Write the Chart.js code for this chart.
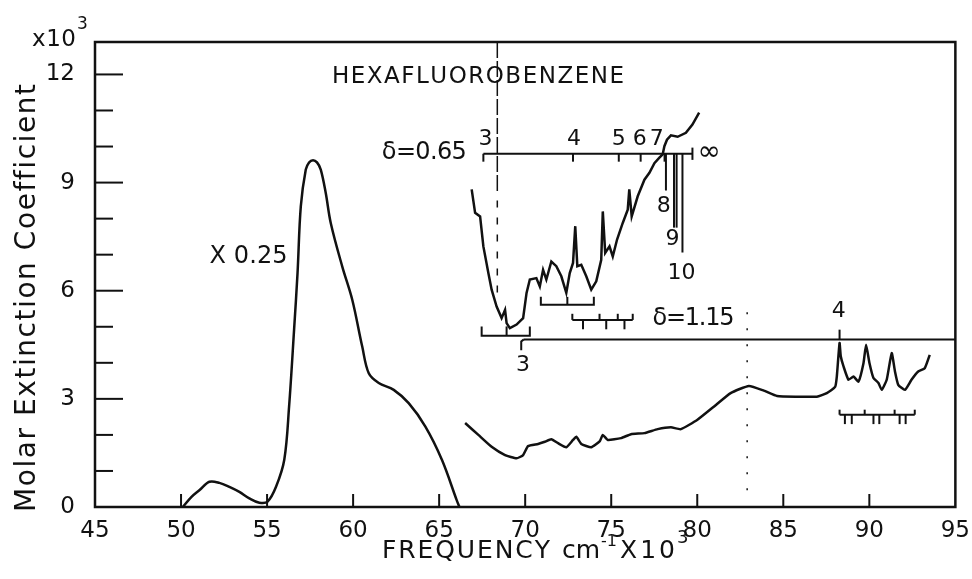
<!DOCTYPE html>
<html>
<head>
<meta charset="utf-8">
<script src="https://cdn.jsdelivr.net/npm/chart.js@4.4.1/dist/chart.umd.min.js"></script>
<style>
  body { margin: 0; background: #fff; }
  #wrap { width: 972px; height: 579px; }
</style>
</head>
<body>
<div id="wrap"><canvas id="spec" width="972" height="579"></canvas></div>
<script>
// --- Dados (frequência em 10^3 cm-1, epsilon em 10^3) ---
// banda principal (x0.25)
const bandFreq = [50.1, 50.61, 51.08, 51.65, 52.23, 52.81, 53.39, 53.97, 54.55, 55.03, 55.52, 56.0, 56.28, 56.57, 56.77, 56.96, 57.25, 57.44, 57.67, 57.9, 58.12, 58.41, 58.7, 59.37, 59.95, 60.53, 60.91, 61.49, 62.36, 63.23, 64.2, 65.16, 66.02, 66.18];
const bandEps  = [0, 0.28, 0.47, 0.70, 0.67, 0.56, 0.42, 0.24, 0.12, 0.15, 0.56, 1.31, 2.79, 4.92, 6.49, 8.34, 9.36, 9.56, 9.62, 9.56, 9.36, 8.71, 7.88, 6.67, 5.75, 4.45, 3.71, 3.44, 3.25, 2.88, 2.23, 1.31, 0.19, 0];

// espectro de alta energia (escala normal)
const uvFreq = [66.51, 67.28, 68.05, 68.83, 69.5, 69.88, 70.17, 70.75, 71.14, 71.52, 71.91, 72.39, 72.78, 72.97, 73.26, 73.84, 74.34, 74.51, 74.8, 75.57, 76.15, 76.93, 77.7, 78.47, 79.05, 80.01, 80.98, 81.94, 83.0, 83.87, 84.64, 85.8, 86.95, 87.53, 88.01, 88.11, 88.27, 88.34, 88.5, 88.79, 89.08, 89.37, 89.66, 89.81, 90.01, 90.24, 90.53, 90.72, 91.01, 91.3, 91.49, 91.68, 92.07, 92.45, 92.84, 93.22, 93.51];
const uvEps  = [2.33, 2.0, 1.67, 1.44, 1.35, 1.44, 1.69, 1.75, 1.81, 1.88, 1.77, 1.66, 1.86, 1.95, 1.75, 1.66, 1.83, 2.0, 1.86, 1.91, 2.02, 2.05, 2.16, 2.21, 2.16, 2.42, 2.79, 3.16, 3.36, 3.23, 3.08, 3.06, 3.06, 3.16, 3.33, 3.62, 4.55, 4.18, 3.9, 3.53, 3.62, 3.48, 3.99, 4.5, 3.99, 3.58, 3.44, 3.25, 3.53, 4.27, 3.76, 3.39, 3.25, 3.53, 3.76, 3.85, 4.22];

// detalhe ampliado (inset)
const insetFreq = [66.89, 67.09, 67.38, 67.57, 67.86, 68.05, 68.34, 68.63, 68.83, 68.92, 69.11, 69.5, 69.88, 70.08, 70.27, 70.65, 70.85, 71.04, 71.23, 71.52, 71.81, 72.1, 72.39, 72.59, 72.78, 72.91, 73.03, 73.26, 73.55, 73.84, 74.13, 74.42, 74.51, 74.65, 74.9, 75.09, 75.34, 75.67, 75.96, 76.05, 76.19, 76.54, 76.93, 77.22, 77.51, 77.8, 77.99, 78.09, 78.24, 78.47, 78.86, 79.34, 79.72, 80.11];
const insetEps  = [8.81, 8.16, 8.06, 7.23, 6.49, 6.03, 5.56, 5.24, 5.47, 5.1, 4.96, 5.06, 5.24, 5.94, 6.31, 6.35, 6.12, 6.58, 6.31, 6.81, 6.68, 6.4, 5.94, 6.49, 6.77, 7.79, 6.68, 6.72, 6.4, 6.03, 6.26, 6.86, 8.2, 7.05, 7.23, 6.95, 7.42, 7.88, 8.25, 8.81, 8.06, 8.62, 9.08, 9.27, 9.54, 9.69, 9.78, 10.01, 10.19, 10.31, 10.27, 10.38, 10.61, 10.94];

const xTickStep = 5;
const yTickStep = 3;

// séries de Rydberg
const rydA = { level: 9.8, start: 67.57, end: 79.72, marks: [67.57, 72.78, 75.44, 76.71, 78.1], names: ['3', '4', '5', '6', '7'] };
const rydALimits = [[78.18, 8.78], [78.65, 7.75], [78.8, 7.75], [79.14, 7.06]];
const rydB = { level: 4.65, start: 69.77, end: 95, mark: 88.27 };

const INK = '#111';
const FONT = '"DejaVu Sans", sans-serif';

function zip(xs, ys) { return xs.map((v, i) => ({ x: v, y: ys[i] })); }

// desenha texto espaçado para ocupar uma largura dada
function fitText(ctx, text, x, y, width) {
    const chars = [...text];
    const ws = chars.map(c => ctx.measureText(c).width);
    const total = ws.reduce((a, b) => a + b, 0);
    const gap = chars.length > 1 ? (width - total) / (chars.length - 1) : 0;
    let cx = x;
    chars.forEach((c, i) => { ctx.fillText(c, cx, y); cx += ws[i] + gap; });
}

const decor = {
    id: 'decor',
    afterDatasetsDraw(chart) {
        const { ctx, chartArea: a, scales } = chart;
        const X = v => scales.x.getPixelForValue(v);
        const Y = v => scales.y.getPixelForValue(v);
        const poly = pts => {
            ctx.beginPath();
            pts.forEach((p, i) => i ? ctx.lineTo(X(p[0]), Y(p[1])) : ctx.moveTo(X(p[0]), Y(p[1])));
            ctx.stroke();
        };
        const label = (t, x, y, size, align) => {
            ctx.font = size + 'px ' + FONT;
            ctx.textAlign = align || 'center';
            ctx.textBaseline = 'middle';
            ctx.fillText(t, X(x), Y(y));
        };

        ctx.save();
        ctx.strokeStyle = INK;
        ctx.fillStyle = INK;
        ctx.lineCap = 'butt';

        // moldura
        ctx.lineWidth = 2.5;
        ctx.strokeRect(a.left, a.top, a.right - a.left, a.bottom - a.top);

        // marcas internas dos eixos
        ctx.lineWidth = 2;
        for (let v = 50; v < 95; v += xTickStep) {
            ctx.beginPath(); ctx.moveTo(X(v), a.bottom); ctx.lineTo(X(v), a.bottom - 13); ctx.stroke();
        }
        for (let v = 1; v <= 12; v++) {
            const len = v % 3 === 0 ? 28 : 18;
            ctx.beginPath(); ctx.moveTo(a.left, Y(v)); ctx.lineTo(a.left + len, Y(v)); ctx.stroke();
        }

        // linhas tracejadas verticais
        ctx.lineWidth = 1.5;
        ctx.setLineDash([16, 3]);
        poly([[68.38, 12.9], [68.38, 8.75]]);
        ctx.setLineDash([7, 10]);
        poly([[68.38, 8.5], [68.38, 5.75]]);
        ctx.setLineDash([2, 14]);
        poly([[82.9, 5.4], [82.9, 0.4]]);
        ctx.setLineDash([]);

        // série delta = 0.65
        ctx.lineWidth = 2;
        poly([[rydA.start, rydA.level], [rydA.end, rydA.level]]);
        rydA.marks.forEach(m => poly([[m, rydA.level], [m, rydA.level - 0.22]]));
        rydALimits.forEach(l => poly([[l[0], rydA.level], [l[0], l[1]]]));
        poly([[rydA.end, rydA.level + 0.17], [rydA.end, rydA.level - 0.17]]);

        // série delta = 1.15
        poly([[rydB.start + 0.15, rydB.level], [rydB.end, rydB.level]]);
        poly([[rydB.start + 0.15, rydB.level], [rydB.start, rydB.level - 0.06], [rydB.start, rydB.level - 0.3]]);
        poly([[rydB.mark, rydB.level], [rydB.mark, rydB.level + 0.27]]);

        // colchetes de progressões
        poly([[67.47, 5.01], [67.47, 4.75], [70.27, 4.75], [70.27, 5.01]]);
        poly([[68.92, 4.75], [68.92, 5.01]]);
        poly([[70.91, 5.83], [70.91, 5.61], [73.99, 5.61], [73.99, 5.83]]);
        poly([[72.45, 5.61], [72.45, 5.83]]);
        poly([[72.74, 5.19], [76.25, 5.19]]);
        [72.74, 74.32, 75.38, 76.25].forEach(m => poly([[m, 5.19], [m, 5.36]]));
        [73.36, 74.71, 75.77].forEach(m => poly([[m, 5.19], [m, 4.93]]));
        poly([[88.27, 2.56], [92.64, 2.56]]);
        [88.27, 89.73, 91.47, 92.64].forEach(m => poly([[m, 2.56], [m, 2.7]]));
        [88.58, 88.98, 90.24, 90.58, 91.76, 92.11].forEach(m => poly([[m, 2.56], [m, 2.3]]));

        // rótulos dentro do gráfico
        ctx.textBaseline = 'middle';
        ctx.textAlign = 'left';
        ctx.font = '23px ' + FONT;
        fitText(ctx, 'HEXAFLUOROBENZENE', X(58.77), Y(11.93), 292);
        ctx.font = '24px ' + FONT;
        fitText(ctx, 'X 0.25', X(51.66), Y(6.94), 78);
        fitText(ctx, 'δ=0.65', X(61.67), Y(9.83), 85);
        fitText(ctx, 'δ=1.15', X(77.4), Y(5.22), 82);
        rydA.names.forEach((n, i) => label(n, [67.69, 72.84, 75.44, 76.66, 77.64][i], 10.21, 22));
        label('8', 78.05, 8.33, 22);
        label('9', 78.56, 7.42, 22);
        label('10', 79.08, 6.47, 22);
        label('∞', 80.01, 9.83, 28, 'left');
        label('3', 69.88, 3.92, 22);
        label('4', 88.23, 5.42, 22);

        ctx.restore();
    },
    afterDraw(chart) {
        const { ctx } = chart;
        ctx.save();
        ctx.fillStyle = INK;
        ctx.textAlign = 'left';
        ctx.textBaseline = 'alphabetic';

        // x10^3 no topo do eixo y
        ctx.font = '23px ' + FONT;
        fitText(ctx, 'x10', 32, 46, 44);
        ctx.font = '17px ' + FONT;
        ctx.fillText('3', 77, 29);

        // título do eixo y
        ctx.translate(35, 512);
        ctx.rotate(-Math.PI / 2);
        ctx.font = '28px ' + FONT;
        fitText(ctx, 'Molar Extinction Coefficient', 0, 0, 428);
        ctx.setTransform(1, 0, 0, 1, 0, 0);

        // título do eixo x (partes encadeadas)
        ctx.font = '25px ' + FONT;
        fitText(ctx, 'FREQUENCY', 382, 558, 168);
        let cx = 562;
        ctx.fillText('cm', cx, 558);
        cx += ctx.measureText('cm').width + 1;
        ctx.font = '16px ' + FONT;
        ctx.fillText('-1', cx, 546);
        cx += ctx.measureText('-1').width + 3;
        ctx.font = '25px ' + FONT;
        fitText(ctx, 'X10', cx, 558, ctx.measureText('X10').width + 6);
        cx += ctx.measureText('X10').width + 8;
        ctx.font = '18px ' + FONT;
        ctx.fillText('3', cx, 543);
        ctx.restore();
    }
};

const lineStyle = { borderColor: INK, borderWidth: 2.5, pointRadius: 0, fill: false };

new Chart(document.getElementById('spec'), {
    type: 'line',
    data: {
        datasets: [
            { ...lineStyle, label: 'x0.25', data: zip(bandFreq, bandEps), tension: 0.35 },
            { ...lineStyle, label: 'espectro', data: zip(uvFreq, uvEps), tension: 0.15 },
            { ...lineStyle, label: 'detalhe', data: zip(insetFreq, insetEps), tension: 0 }
        ]
    },
    options: {
        responsive: false,
        animation: false,
        layout: { padding: { top: 42, right: 13, left: 0, bottom: 0 } },
        plugins: { legend: { display: false }, tooltip: { enabled: false } },
        scales: {
            x: {
                type: 'linear', min: 45, max: 95,
                grid: { display: false }, border: { display: false },
                ticks: { stepSize: xTickStep, color: INK, padding: 2, maxRotation: 0, font: { family: FONT, size: 23 } },
                afterFit(s) { s.height = 72; }
            },
            y: {
                min: 0, max: 12.9,
                grid: { display: false }, border: { display: false },
                ticks: { stepSize: yTickStep, includeBounds: false, color: INK, padding: 12, font: { family: FONT, size: 23 } },
                afterFit(s) { s.width = 95; }
            }
        }
    },
    plugins: [decor]
});
</script>
</body>
</html>
